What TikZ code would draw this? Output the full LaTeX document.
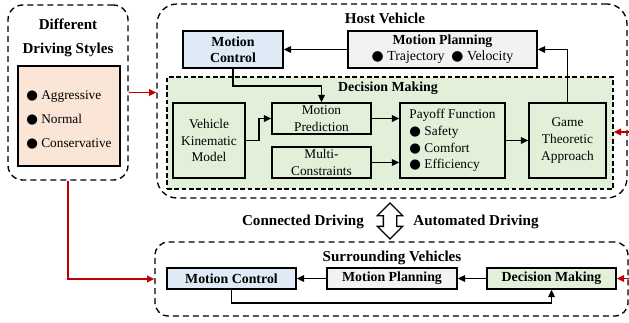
\documentclass[tikz,border=0pt]{standalone}
\usepackage{fontspec}
\setmainfont{Liberation Serif}
\newfontfamily\dejavu{DejaVu Sans}
\definecolor{myBlue}{RGB}{222,235,247}
\definecolor{myGreen}{RGB}{226,240,217}
\definecolor{myPeach}{RGB}{251,229,214}
\definecolor{myGray}{RGB}{242,242,242}
\definecolor{myRed}{RGB}{192,0,0}
\newcommand{\bdot}{{\dejavu ●}}
\usetikzlibrary{arrows.meta,positioning,shapes.arrows}

\begin{document}
\begin{tikzpicture}[x=0.75pt,y=-0.75pt,
                group/.style={draw,line width=1pt,dash pattern=on 4.5pt off 3pt},
                block/.style={draw,line width=1.2pt,inner sep=0pt,align=center,font=\fontsize{10.4}{12}\selectfont\bfseries},
                lbox/.style={block,font=\fontsize{10}{12.5}\selectfont},
                title/.style={inner sep=0pt,align=center,font=\fontsize{11.3}{18}\selectfont\bfseries},
                flow/.style={line width=1.1pt,-{Triangle[length=5.5pt,width=5pt]}},
                redflow/.style={flow,myRed}]
                \useasboundingbox (0,0) rectangle (629,322);

                \node[group,rounded corners=11pt,minimum width=90pt,minimum height=131.25pt] (sty) at (68,92.5) {};
                \node[title] (styt) at (68,38) {Different\\Driving Styles};
                \node[lbox,fill=myPeach,minimum width=76.5pt,minimum height=75pt] (styl) at (69,116) {};
                \node[align=left,inner sep=0pt,font=\fontsize{10}{18}\selectfont] (stytxt) at (69,120) {\bdot\ Aggressive\\\bdot\ Normal\\\bdot\ Conservative};

                \node[group,rounded corners=15pt,minimum width=352.5pt,minimum height=145.5pt] (host) at (392,101) {};
                \node[title] (hostt) at (385,18) {Host Vehicle};
                \node[block,fill=myBlue,minimum width=75pt,minimum height=27.75pt] (hmc) at (233,49.5) {Motion\\Control};
                \node[block,fill=myGray,minimum width=141.75pt,minimum height=27.75pt] (hmp) at (442.5,49.5) {Motion Planning\\{\mdseries\bdot\ Trajectory \ \bdot\ Velocity}};
                \node[group,dash pattern=on 3.5pt off 2pt,fill=myGreen,minimum width=334.5pt,minimum height=84pt] (dm) at (390,133) {};
                \node[block,draw=none] (dmt) at (388,88) {Decision Making};
                \node[lbox,minimum width=54pt,minimum height=56.25pt] (vkm) at (209,140.5) {Vehicle\\Kinematic\\Model};
                \node[lbox,minimum width=74.25pt,minimum height=23.25pt] (mpred) at (321.5,118.5) {Motion\\Prediction};
                \node[lbox,minimum width=74.25pt,minimum height=23.25pt] (mcons) at (321.5,162.5) {Multi-\\Constraints};
                \node[lbox,align=left,minimum width=78.75pt,minimum height=56.25pt] (pay) at (452.5,140.5) {Payoff Function\\\bdot\ Safety\\\bdot\ Comfort\\\bdot\ Efficiency};
                \node[lbox,minimum width=57.75pt,minimum height=56.25pt] (gta) at (567.5,140.5) {Game\\Theoretic\\Approach};

                \draw[flow] (hmp.west) -- (hmc.east);
                \draw[flow] (gta.north) |- (hmp.east);
                \draw[flow] (hmc.south) -- ++(0,17) -| (mpred.north);
                \draw[flow] (vkm.east) -- ++(13,0) |- (mpred.west);
                \draw[flow] (mpred.east) -- (mpred.east -| pay.west);
                \draw[flow] (mcons.east) -- (mcons.east -| pay.west);
                \draw[flow] (pay.east) -- (gta.west);

                \node[double arrow,draw,line width=1pt,fill=white,rotate=90,minimum height=27pt,minimum width=18pt,inner sep=4.5pt,double arrow head extend=4.5pt] (link) at (390,221) {};
                \node[title] (cd) at (303,222) {Connected Driving};
                \node[title] (ad) at (476,222) {Automated Driving};

                \node[group,rounded corners=10pt,minimum width=354.75pt,minimum height=55.5pt] (sv) at (391.5,279) {};
                \node[title] (svt) at (392,258) {Surrounding Vehicles};
                \node[block,fill=myBlue,minimum width=96.75pt,minimum height=15.75pt] (smc) at (231.5,278.5) {Motion Control};
                \node[block,fill=myGray,minimum width=97.5pt,minimum height=15.75pt] (smp) at (392,278.5) {Motion Planning};
                \node[block,fill=myGreen,minimum width=96.75pt,minimum height=15.75pt] (sdm) at (551.5,278.5) {Decision Making};

                \draw[flow] (sdm.west) -- (smp.east);
                \draw[flow] (smp.west) -- (smc.east);
                \draw[flow] (smc.south) -- ++(0,13) -| (sdm.south);

                \coordinate (hin) at (640,132);
                \coordinate (sin) at (640,278.5);
                \draw[redflow] (sty.east) -- (sty.east -| host.west);
                \draw[redflow] (sty.south) |- (sv.west);
                \draw[redflow] (hin) -- (hin -| dm.east);
                \draw[redflow] (sin) -- (sdm.east);
            \end{tikzpicture}
\end{document}
